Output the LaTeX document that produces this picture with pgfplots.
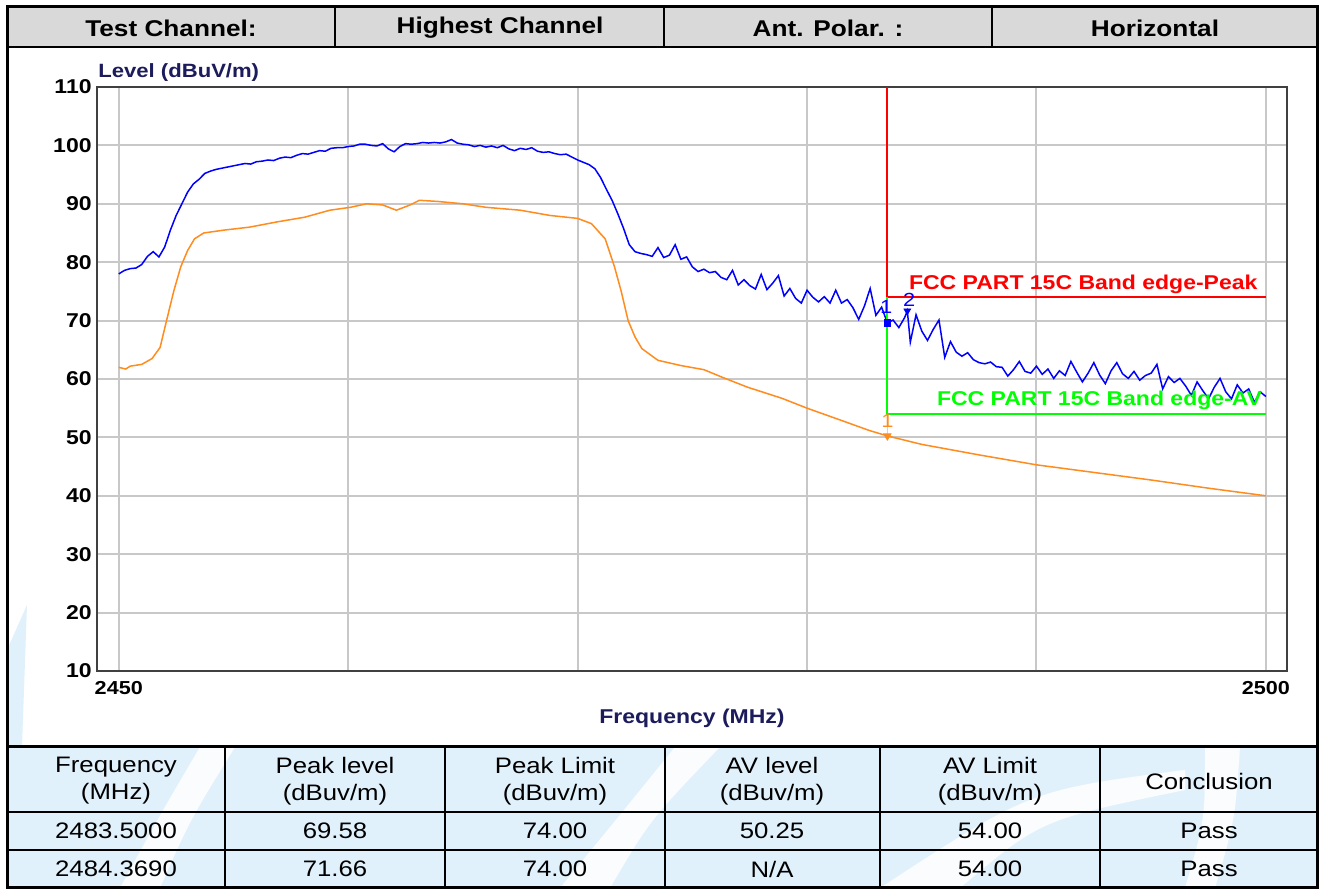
\documentclass[border=0pt]{standalone}
\usepackage{fontspec}
\setmainfont{Liberation Sans}[FakeStretch=1.15]
\usepackage{pgfplots}
\pgfplotsset{compat=1.18}
\definecolor{hdr}{HTML}{D9D9D9}
\definecolor{wm}{HTML}{E1F1FC}
\definecolor{trblue}{HTML}{0000FF}
\definecolor{trorange}{HTML}{FF8C1E}
\definecolor{gridc}{HTML}{C8C8C8}
\definecolor{navy}{HTML}{1C1C5C}
\definecolor{fccgreen}{HTML}{00FF00}
\definecolor{mkcyan}{HTML}{40C0FF}
\newcommand\fs[1]{\fontsize{#1}{#1}\selectfont}
\begin{document}
\begin{tikzpicture}
\useasboundingbox (0,0) rectangle (661pt,446.5pt);
\begin{scope}[shift={(0pt,446.5pt)},x=0.5pt,y=-0.5pt]
  \fill[white] (0,0) rectangle (1322,893);
  % watermark in the table
  \fill[wm] (7,747) rectangle (1317,888);
  \fill[white,opacity=0.85] (120,888) -- (160,888) .. controls (190,820) .. (235,747) -- (200,747) .. controls (160,815) .. cycle;
  \fill[white,opacity=0.85] (560,888) -- (610,888) .. controls (650,820) .. (720,747) -- (675,747) .. controls (620,815) .. cycle;
  \fill[white,opacity=0.85] (880,888) -- (960,888) .. controls (1040,820) .. (1185,790) -- (1185,770) .. controls (1030,790) .. cycle;
  \fill[white,opacity=0.85] (1185,888) -- (1215,888) .. controls (1235,820) .. (1240,747) -- (1205,747) .. controls (1205,820) .. cycle;
  % watermark in the plot area
  \fill[wm] (7,650) -- (27,605) -- (22,747) -- (7,747) -- cycle;
  % header band
  \fill[hdr] (7,7) rectangle (1317,47);
  % axis titles
  \node[anchor=west, text=navy, font=\bfseries\fs{9.6}, inner sep=0pt] at (98,73) {Level (dBuV/m)};
  \node[text=navy, font=\bfseries\fs{10}, inner sep=0pt] at (692,718) {Frequency (MHz)};
\end{scope}

\begin{axis}[
  at={(48.5pt,111pt)}, anchor=south west,
  scale only axis, width=595pt, height=292pt,
  xmin=2449.05, xmax=2500.92, ymin=10, ymax=110,
  xtick={2450,2460,2470,2480,2490,2500},
  xticklabels={2450,,,,,2500},
  ytick={10,20,30,40,50,60,70,80,90,100,110},
  grid=major,
  major grid style={gridc, line width=1pt},
  major tick length=0pt,
  axis line style={draw=black!75, line width=1.1pt},
  /pgf/number format/assume math mode=true,
  xticklabel style={font=\bfseries\fs{9.4}, inner sep=0pt, yshift=-5pt},
  yticklabel style={font=\bfseries\fs{10}, inner sep=0pt, xshift=-2.5pt},
]
\addplot[trblue, line width=0.75pt] coordinates {
(2450.00,78.0) (2450.25,78.6) (2450.50,78.9) (2450.75,79.0) (2451.00,79.6) (2451.25,81.0) (2451.50,81.8) (2451.75,80.9)
(2452.00,82.6) (2452.25,85.5) (2452.50,88.0) (2452.75,90.0) (2453.00,92.0) (2453.25,93.4) (2453.50,94.2) (2453.75,95.2)
(2454.00,95.6) (2454.25,95.9) (2454.50,96.1) (2454.75,96.3) (2455.00,96.5) (2455.25,96.7) (2455.50,96.9) (2455.75,96.8)
(2456.00,97.2) (2456.25,97.3) (2456.50,97.5) (2456.75,97.4) (2457.00,97.8) (2457.25,98.0) (2457.50,97.9) (2457.75,98.3)
(2458.00,98.6) (2458.25,98.5) (2458.50,98.8) (2458.75,99.1) (2459.00,99.0) (2459.25,99.5) (2459.50,99.6) (2459.75,99.6)
(2460.00,99.8) (2460.25,99.9) (2460.50,100.2) (2460.75,100.2) (2461.00,100.0) (2461.25,99.9) (2461.50,100.3) (2461.75,99.4)
(2462.00,98.9) (2462.25,99.8) (2462.50,100.3) (2462.75,100.2) (2463.00,100.3) (2463.25,100.5) (2463.50,100.4) (2463.75,100.5)
(2464.00,100.4) (2464.25,100.6) (2464.50,101.0) (2464.75,100.4) (2465.00,100.2) (2465.25,100.1) (2465.50,99.8) (2465.75,100.0)
(2466.00,99.7) (2466.25,99.9) (2466.50,99.6) (2466.75,100.0) (2467.00,99.4) (2467.25,99.1) (2467.50,99.5) (2467.75,99.3)
(2468.00,99.6) (2468.25,99.0) (2468.50,98.8) (2468.75,98.9) (2469.00,98.6) (2469.25,98.4) (2469.50,98.5) (2469.75,98.0)
(2470.00,97.5) (2470.25,97.1) (2470.50,96.7) (2470.75,96.0) (2471.00,94.5) (2471.25,92.5) (2471.50,90.6) (2471.75,88.3)
(2472.00,85.8) (2472.25,83.0) (2472.50,81.8) (2472.75,81.5) (2473.00,81.3) (2473.25,81.0) (2473.50,82.5) (2473.75,80.8)
(2474.00,81.2) (2474.25,83.0) (2474.50,80.5) (2474.75,80.9) (2475.00,79.2) (2475.25,78.4) (2475.50,78.8) (2475.75,78.2)
(2476.00,78.4) (2476.25,77.4) (2476.50,77.0) (2476.75,78.6) (2477.00,76.1) (2477.25,77.0) (2477.50,76.0) (2477.75,75.4)
(2478.00,77.9) (2478.25,75.3) (2478.50,76.4) (2478.75,77.7) (2479.00,74.2) (2479.25,75.5) (2479.50,73.8) (2479.75,73.0)
(2480.00,75.2) (2480.25,74.0) (2480.50,73.2) (2480.75,74.1) (2481.00,73.0) (2481.25,75.2) (2481.50,73.0) (2481.75,73.6)
(2482.00,72.2) (2482.25,70.2) (2482.50,72.5) (2482.75,75.5) (2483.00,70.9) (2483.25,72.3) (2483.50,69.6) (2483.75,70.1)
(2484.00,68.8) (2484.25,70.5) (2484.37,71.66) (2484.50,66.3) (2484.75,71.0) (2485.00,68.2) (2485.25,66.6) (2485.50,68.5)
(2485.75,70.1) (2486.00,63.7) (2486.25,66.4) (2486.50,64.6) (2486.75,63.9) (2487.00,64.5) (2487.25,63.3) (2487.50,62.8)
(2487.75,62.6) (2488.00,62.9) (2488.25,62.1) (2488.50,62.0) (2488.75,60.5) (2489.00,61.6) (2489.25,63.0) (2489.50,61.3)
(2489.75,61.0) (2490.00,62.2) (2490.25,60.8) (2490.50,61.7) (2490.75,60.1) (2491.00,61.4) (2491.25,60.6) (2491.50,63.0)
(2491.75,61.2) (2492.00,59.5) (2492.25,61.0) (2492.50,62.8) (2492.75,60.7) (2493.00,59.2) (2493.25,61.4) (2493.50,62.8)
(2493.75,60.9) (2494.00,60.1) (2494.25,61.3) (2494.50,59.8) (2494.75,60.6) (2495.00,61.0) (2495.25,62.5) (2495.50,58.3)
(2495.75,60.4) (2496.00,59.4) (2496.25,60.1) (2496.50,58.8) (2496.75,57.2) (2497.00,59.5) (2497.25,58.0) (2497.50,56.6)
(2497.75,58.6) (2498.00,60.1) (2498.25,57.8) (2498.50,56.6) (2498.75,59.0) (2499.00,57.6) (2499.25,58.3) (2499.50,56.0)
(2499.75,57.8) (2500.00,57.0)
};
\addplot[trorange, line width=0.75pt] coordinates {
(2450.0,62.0) (2450.3,61.7) (2450.5,62.2) (2451.0,62.5) (2451.45,63.5) (2451.8,65.4) (2452.1,70.3) (2452.4,75.1)
(2452.7,79.2) (2453.0,82.0) (2453.3,84.0) (2453.7,85.0) (2454.6,85.5) (2455.7,86.0) (2456.9,86.9) (2458.1,87.7)
(2459.2,88.9) (2460.1,89.4) (2460.8,90.0) (2461.5,89.8) (2462.1,88.9) (2462.7,89.8) (2463.1,90.6) (2463.9,90.4)
(2465.0,90.0) (2466.0,89.4) (2467.5,88.9) (2468.8,88.0) (2470.0,87.5) (2470.6,86.6) (2471.2,84.0) (2471.6,79.3)
(2471.9,75.0) (2472.2,70.0) (2472.5,67.2) (2472.8,65.2) (2473.5,63.2) (2474.5,62.3) (2475.5,61.6) (2476.3,60.3)
(2477.4,58.6) (2478.9,56.7) (2480.0,55.0) (2481.5,52.9) (2482.7,51.2) (2483.5,50.25) (2485.0,48.8) (2487.5,47.0)
(2490.0,45.3) (2492.5,44.0) (2495.0,42.7) (2497.5,41.3) (2500.0,40.0)
};
% limit lines
\addplot[red, line width=1pt] coordinates {(2483.5,110) (2483.5,74) (2500,74)};
\addplot[fccgreen, line width=1pt] coordinates {(2483.5,74) (2483.5,54) (2500,54)};
\node[anchor=base east, text=red, font=\bfseries\fs{10}, inner sep=0pt] at (axis cs:2499.65,75.4) {FCC PART 15C Band edge-Peak};
\node[anchor=base east, text=fccgreen, font=\bfseries\fs{10}, inner sep=0pt] at (axis cs:2499.85,55.4) {FCC PART 15C Band edge-AV};
% marker stems
\addplot[mkcyan, line width=0.6pt] coordinates {(2483.5,69.58) (2483.5,73.2)};
\addplot[trorange!50, line width=0.6pt] coordinates {(2483.5,50.25) (2483.5,53.8)};
% markers
\addplot[trblue, only marks, mark=square*, mark size=1.6pt] coordinates {(2483.5,69.58)};
\addplot[trblue, only marks, mark=triangle*, mark options={rotate=180}, mark size=1.9pt] coordinates {(2484.369,71.66)};
\addplot[trorange, only marks, mark=triangle*, mark options={rotate=180}, mark size=2.1pt] coordinates {(2483.5,50.25)};
\node[text=trblue, font=\fs{9.5}, inner sep=0pt] at (axis cs:2483.45,72.3) {1};
\node[text=trblue, font=\fs{9.5}, inner sep=0pt] at (axis cs:2484.45,73.5) {2};
\node[text=trorange, font=\fs{9.5}, inner sep=0pt] at (axis cs:2483.5,52.8) {1};
\end{axis}

\begin{scope}[shift={(0pt,446.5pt)},x=0.5pt,y=-0.5pt]
  % frame and rules
  \draw[line width=1.5pt] (7,7) rectangle (1317,888);
  \draw[line width=1pt] (7,47) -- (1317,47);
  \foreach \xx in {335,664,992} \draw[line width=1pt] (\xx,7) -- (\xx,47);
  \draw[line width=1.5pt] (7,747) -- (1317,747);
  \draw[line width=1pt] (7,812) -- (1317,812);
  \draw[line width=1pt] (7,850) -- (1317,850);
  \foreach \xx in {225,445,665,880,1100} \draw[line width=1pt] (\xx,747) -- (\xx,888);
  % header texts
  \begin{scope}[every node/.style={font=\bfseries\fs{11.4}, inner sep=0pt}]
    \node at (171,28) {Test Channel:};
    \node at (500,28) {Highest Channel};
    \node at (828,28) {Ant. Polar. :};
    \node at (1155,28) {Horizontal};
  \end{scope}
  % table texts
  \begin{scope}[every node/.style={font=\fontsize{11.2}{13.5}\selectfont, inner sep=0pt, align=center}]
    \node at (116,781) {Frequency\\(MHz)};
    \node at (335,781) {Peak level\\(dBuv/m)};
    \node at (555,781) {Peak Limit\\(dBuv/m)};
    \node at (772,781) {AV level\\(dBuv/m)};
    \node at (990,781) {AV Limit\\(dBuv/m)};
    \node at (1209,781) {Conclusion};
    \node at (116,831) {2483.5000};
    \node at (335,831) {69.58};
    \node at (555,831) {74.00};
    \node at (772,831) {50.25};
    \node at (990,831) {54.00};
    \node at (1209,831) {Pass};
    \node at (116,869) {2484.3690};
    \node at (335,869) {71.66};
    \node at (555,869) {74.00};
    \node at (772,869) {N/A};
    \node at (990,869) {54.00};
    \node at (1209,869) {Pass};
  \end{scope}
\end{scope}
\end{tikzpicture}
\end{document}
